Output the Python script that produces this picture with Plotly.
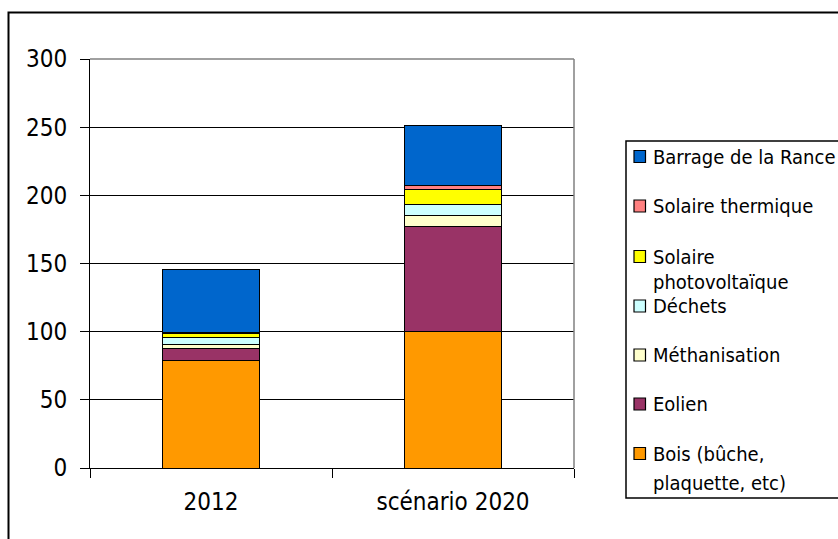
import plotly.graph_objects as go

# Categories (x axis)
categories = ["2012", "scénario 2020"]

# Series, stacked from bottom to top
series_names = [
    "Bois (bûche, plaquette, etc)",
    "Eolien",
    "Méthanisation",
    "Déchets",
    "Solaire photovoltaïque",
    "Solaire thermique",
    "Barrage de la Rance",
]
bois = [79, 100]
eolien = [9, 77]
methanisation = [2.5, 8]
dechets = [5.5, 8]
solaire_pv = [3, 11.5]
solaire_thermique = [0.5, 3]
barrage_rance = [46, 44]

series_values = [bois, eolien, methanisation, dechets, solaire_pv,
                 solaire_thermique, barrage_rance]
series_colors = ["#FF9900", "#993366", "#FFFFCC", "#CCFFFF", "#FFFF00",
                 "#FF8080", "#0066CC"]

# Legend labels as wrapped in the legend box
legend_labels = {
    "Bois (bûche, plaquette, etc)": ["Bois (bûche,", "plaquette, etc)"],
    "Solaire photovoltaïque": ["Solaire", "photovoltaïque"],
}
# spacing of the wrapped second line, per entry
second_line_gap = {
    "Bois (bûche, plaquette, etc)": 29,
    "Solaire photovoltaïque": 25,
}

y_ticks = [0, 50, 100, 150, 200, 250, 300]

FONT = "DejaVu Sans Condensed, Tahoma, DejaVu Sans, sans-serif"
W, H = 838, 539
L, R, T, B = 90, 574, 59, 468  # plot area in pixels


def px(x):
    return (x - L) / (R - L)


def py(y):
    return (B - y) / (B - T)


fig = go.Figure()
for name, vals, col in zip(series_names, series_values, series_colors):
    fig.add_trace(go.Bar(
        x=categories, y=vals, name=name,
        marker=dict(color=col, line=dict(color="black", width=1)),
        width=0.4, showlegend=False,
    ))

shapes = []
annotations = []

# outer chart frame
shapes.append(dict(type="rect", xref="paper", yref="paper",
                   x0=px(8.5), x1=px(870), y0=py(570), y1=py(12.5),
                   line=dict(color="black", width=2), layer="below"))
# plot-area border (grey top and right)
shapes.append(dict(type="line", xref="paper", yref="paper",
                   x0=0, x1=1, y0=1, y1=1,
                   line=dict(color="#808080", width=1.5)))
shapes.append(dict(type="line", xref="paper", yref="paper",
                   x0=1, x1=1, y0=0, y1=1,
                   line=dict(color="#808080", width=1.5)))

# legend box
shapes.append(dict(type="rect", xref="paper", yref="paper",
                   x0=px(626), x1=px(860), y0=py(498), y1=py(141),
                   line=dict(color="black", width=1.5), fillcolor="white",
                   layer="below"))

# legend entries, top (last series) to bottom
row_y = [156.5, 206, 256.5, 306, 355, 404, 453.5]
for i, (name, col) in enumerate(zip(series_names[::-1], series_colors[::-1])):
    cy = row_y[i]
    shapes.append(dict(type="rect", xref="paper", yref="paper",
                       x0=px(634), x1=px(645.5), y0=py(cy + 6), y1=py(cy - 6),
                       fillcolor=col, line=dict(color="black", width=1.2)))
    lines = legend_labels.get(name, [name])
    gap = second_line_gap.get(name, 0)
    for j, line in enumerate(lines):
        annotations.append(dict(
            x=px(651), y=py(cy + j * gap), xref="paper", yref="paper",
            text=line, showarrow=False, xanchor="left", yanchor="middle",
            font=dict(family=FONT, size=20, color="black"),
        ))

fig.update_layout(
    width=W, height=H,
    margin=dict(l=L, r=W - R, t=T, b=H - B, pad=0),
    barmode="stack",
    paper_bgcolor="white", plot_bgcolor="white",
    font=dict(family=FONT, size=24, color="black"),
    shapes=shapes, annotations=annotations,
    showlegend=False,
)
fig.update_xaxes(
    type="category", range=[-0.5, 1.5],
    tickson="boundaries", ticks="outside", ticklen=9, tickcolor="black",
    tickwidth=1, showline=True, linecolor="black", linewidth=1,
    showgrid=False, ticklabelstandoff=12,
    tickfont=dict(family=FONT, size=24, color="black"),
)
fig.update_yaxes(
    range=[0, 300], tickvals=y_ticks, ticks="outside", ticklen=9,
    tickcolor="black", tickwidth=1, showline=True, linecolor="black",
    linewidth=1, showgrid=True, gridcolor="black", gridwidth=1,
    zeroline=False, ticklabelstandoff=8,
    tickfont=dict(family=FONT, size=24, color="black"),
)

fig.write_html("out.html")
